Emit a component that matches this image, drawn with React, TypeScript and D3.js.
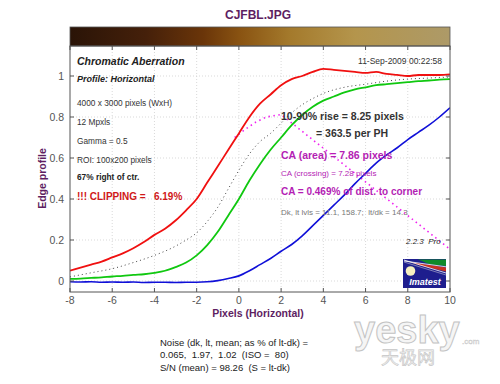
import React from 'react';
import * as d3 from 'd3';

// edge profile samples, x in pixels (horizontal)
const xs = [-8, -7.5, -7, -6.5, -6, -5.5, -5, -4.5, -4, -3.5, -3, -2.5, -2, -1.5, -1, -0.5, 0, 0.5, 1, 1.5, 2, 2.5, 3, 3.5, 4, 4.5, 5, 5.5, 6, 6.5, 7, 7.5, 8, 8.5, 9, 9.5, 10];
const redVals = [0.05, 0.065, 0.08, 0.095, 0.115, 0.135, 0.16, 0.19, 0.225, 0.255, 0.295, 0.345, 0.4, 0.48, 0.56, 0.64, 0.72, 0.8, 0.865, 0.91, 0.955, 0.985, 1.0, 1.02, 1.035, 1.03, 1.025, 1.02, 1.015, 1.02, 1.01, 1.005, 1.0, 1.005, 1.005, 1.005, 1.008];
const greenVals = [0.01, 0.012, 0.015, 0.018, 0.022, 0.025, 0.03, 0.033, 0.04, 0.05, 0.068, 0.09, 0.125, 0.175, 0.24, 0.32, 0.4, 0.49, 0.57, 0.64, 0.7, 0.76, 0.81, 0.85, 0.88, 0.9, 0.92, 0.935, 0.945, 0.955, 0.96, 0.965, 0.97, 0.975, 0.978, 0.982, 0.985];
const blueVals = [-0.004, -0.005, -0.004, -0.006, -0.005, -0.006, -0.005, -0.007, -0.006, -0.006, -0.007, -0.006, -0.006, -0.004, 0.002, 0.012, 0.025, 0.05, 0.08, 0.11, 0.145, 0.178, 0.22, 0.27, 0.32, 0.37, 0.42, 0.475, 0.525, 0.575, 0.615, 0.65, 0.69, 0.725, 0.76, 0.8, 0.845];

const meanXs = [-8, -7, -6, -5, -4, -3, -2.5, -2, -1.5, -1, -0.5, 0, 0.5, 1, 1.5, 2, 2.5, 3, 3.5, 4, 5, 6, 7, 8, 9, 10];
const meanVals = [0.02, 0.04, 0.06, 0.09, 0.125, 0.17, 0.2, 0.235, 0.29, 0.36, 0.45, 0.54, 0.62, 0.68, 0.72, 0.77, 0.82, 0.86, 0.89, 0.915, 0.945, 0.96, 0.975, 0.985, 0.99, 0.995];

const caXs = [-0.2, 0.3, 0.8, 1.3, 2.0, 10];
const caVals = [0.7, 0.74, 0.775, 0.8, 0.812, 0.155];

const xTicks = [-8, -6, -4, -2, 0, 2, 4, 6, 8, 10];
const yTicks = [0, 0.2, 0.4, 0.6, 0.8, 1];

const infoLines = ['4000 x 3000 pixels (WxH)', '12 Mpxls', 'Gamma = 0.5', 'ROI: 100x200 pixels'];
const noiseLines = ['Noise (dk, lt, mean; as % of lt-dk) =', '0.065,  1.97,  1.02  (ISO =  80)', 'S/N (mean) = 98.26  (S = lt-dk)'];

const FONT = 'Liberation Sans, Arial, sans-serif';
const PURPLE = '#5e1e62';
const MAG = '#b41eb4';

export default function App() {
  const left = 70, right = 450, top = 46, bottom = 292;
  const x = d3.scaleLinear().domain([-8, 10]).range([left, right]);
  const y = d3.scaleLinear().domain([0, 1]).range([281, 76]);

  const smooth = d3.line<[number, number]>().x(d => x(d[0])).y(d => y(d[1])).curve(d3.curveMonotoneX);
  const straight = d3.line<[number, number]>().x(d => x(d[0])).y(d => y(d[1]));
  const pts = (a: number[], b: number[]) => a.map((v, i) => [v, b[i]] as [number, number]);

  return (
    <svg width={500} height={384} style={{ position: 'absolute', left: 0, top: 0, background: '#fff' }} fontFamily={FONT}>
      <defs>
        <linearGradient id="bar" x1="0" x2="1" y1="0" y2="0">
          <stop offset="0" stopColor="#2a1407" />
          <stop offset="0.2" stopColor="#45200a" />
          <stop offset="0.35" stopColor="#6a3509" />
          <stop offset="0.45" stopColor="#8a5412" />
          <stop offset="0.58" stopColor="#a47a2c" />
          <stop offset="0.75" stopColor="#b4954c" />
          <stop offset="1" stopColor="#ad9a68" />
        </linearGradient>
        <clipPath id="plot">
          <rect x={left} y={top} width={right - left} height={bottom - top} />
        </clipPath>
      </defs>

      <text x={258} y={19} textAnchor="middle" fontSize={12} fontWeight="bold" fill={PURPLE}>CJFBL.JPG</text>

      {/* grid */}
      {xTicks.slice(1, -1).map(t => (
        <line key={'gx' + t} x1={x(t)} x2={x(t)} y1={top} y2={bottom} stroke="#cfcfcf" strokeWidth={0.8} strokeDasharray="1,2" />
      ))}
      {yTicks.map(t => (
        <line key={'gy' + t} x1={left} x2={right} y1={y(t)} y2={y(t)} stroke="#cfcfcf" strokeWidth={0.8} strokeDasharray="1,2" />
      ))}

      {/* curves */}
      <g clipPath="url(#plot)" fill="none">
        <path d={smooth(pts(meanXs, meanVals)) || ''} stroke="#444" strokeWidth={1} strokeDasharray="1,3" />
        <path d={straight(pts(caXs, caVals)) || ''} stroke="#f020f0" strokeWidth={1.6} strokeDasharray="1.5,3.5" />
        <path d={smooth(pts(xs, blueVals)) || ''} stroke="#1010d8" strokeWidth={1.6} />
        <path d={smooth(pts(xs, greenVals)) || ''} stroke="#10c810" strokeWidth={1.8} />
        <path d={smooth(pts(xs, redVals)) || ''} stroke="#f01010" strokeWidth={1.8} />
      </g>

      {/* frame and gradient bar */}
      <rect x={left} y={27} width={right - left} height={top - 27} fill="url(#bar)" stroke="#555" strokeWidth={0.8} />
      <rect x={left} y={top} width={right - left} height={bottom - top} fill="none" stroke="#555" strokeWidth={1} />

      {/* ticks */}
      {xTicks.map(t => (
        <g key={'tx' + t}>
          <line x1={x(t)} x2={x(t)} y1={bottom} y2={bottom - 4} stroke="#555" />
          <line x1={x(t)} x2={x(t)} y1={top} y2={top + 4} stroke="#555" />
          <text x={x(t)} y={bottom + 12} textAnchor="middle" fontSize={10.5} fill="#555">{t}</text>
        </g>
      ))}
      {yTicks.map(t => (
        <g key={'ty' + t}>
          <line x1={left} x2={left + 4} y1={y(t)} y2={y(t)} stroke="#555" />
          <line x1={right} x2={right - 4} y1={y(t)} y2={y(t)} stroke="#555" />
          <text x={left - 6} y={y(t) + 4} textAnchor="end" fontSize={10.5} fill="#555">{t}</text>
        </g>
      ))}

      <text x={258} y={317} textAnchor="middle" fontSize={10.5} fontWeight="bold" fill={PURPLE}>Pixels (Horizontal)</text>
      <text transform={`translate(46,${y(0.5)}) rotate(-90)`} textAnchor="middle" fontSize={10.5} fontWeight="bold" fill={PURPLE}>Edge profile</text>

      {/* left annotations */}
      <text x={77} y={65} fontSize={10.5} fontWeight="bold" fontStyle="italic" fill="#222">Chromatic Aberration</text>
      <text x={442} y={64} textAnchor="end" fontSize={8.5} fill="#333">11-Sep-2009 00:22:58</text>
      <text x={77} y={82} fontSize={9} fontWeight="bold" fontStyle="italic" fill="#222">Profile: Horizontal</text>
      {infoLines.map((s, i) => (
        <text key={s} x={77} y={106 + i * 19} fontSize={8.3} fill="#333">{s}</text>
      ))}
      <text x={77} y={180} fontSize={8.3} fontWeight="bold" fill="#222">67% right of ctr.</text>
      <text x={77} y={200} fontSize={10} fontWeight="bold" fill="#d01818" xmlSpace="preserve">!!! CLIPPING =   6.19%</text>

      {/* right annotations */}
      <text x={281} y={120} fontSize={10.5} fontWeight="bold" fill="#333">10-90% rise = 8.25 pixels</text>
      <text x={316} y={137} fontSize={10.5} fontWeight="bold" fill="#333">= 363.5 per PH</text>
      <text x={281} y={159} fontSize={10.5} fontWeight="bold" fill={MAG}>CA (area) = 7.86 pixels</text>
      <text x={281} y={176} fontSize={8} fill={MAG}>CA (crossing) = 7.28 pixels</text>
      <text x={281} y={195} fontSize={10} fontWeight="bold" fill={MAG}>CA = 0.469% of dist. to corner</text>
      <text x={281} y={215} fontSize={8} fill="#777" xmlSpace="preserve">Dk, lt lvls = 11.1, 158.7;  lt/dk = 14.3</text>
      <text x={406} y={244} fontSize={8} fontStyle="italic" fill="#222" xmlSpace="preserve">2.2.3  Pro</text>

      {/* Imatest logo */}
      <g>
        <rect x={403} y={259} width={43} height={29} fill="#1e1e8e" />
        <polygon points="418,259.5 446,259.5 446,266 430,264.5" fill="#108a2a" />
        <polygon points="410,262 446,267.5 446,271.5 420,265.5" fill="#c83222" />
        <line x1={404} y1={260} x2={446} y2={273} stroke="#fff" strokeWidth={0.8} />
        <line x1={404} y1={261} x2={446} y2={266.8} stroke="#fff" strokeWidth={0.8} />
        <line x1={404} y1={262} x2={446} y2={275} stroke="#ddd" strokeWidth={0.5} />
        <circle cx={410.5} cy={271} r={4.8} fill="#f6f0c0" />
        <text x={425} y={285} textAnchor="middle" fontSize={9} fontWeight="bold" fontStyle="italic" fill="#fff">Imatest</text>
      </g>

      {/* noise summary */}
      {noiseLines.map((s, i) => (
        <text key={s} x={160} y={346 + i * 12.3} fontSize={9.5} fill="#222" xmlSpace="preserve">{s}</text>
      ))}

      {/* watermark */}
      <g opacity={0.9}>
        <text x={354} y={343} fontSize={38} fontWeight="bold" fill="#f4f4f4" stroke="#bdbdbd" strokeWidth={1}>yesky</text>
        <text x={462} y={344} fontSize={8} fill="#eee" stroke="#c4c4c4" strokeWidth={0.4}>.com</text>
        <text x={408} y={364} textAnchor="middle" fontSize={18} fontFamily="Noto Sans CJK SC" fill="#eee" stroke="#c0c0c0" strokeWidth={0.6}>天极网</text>
      </g>
    </svg>
  );
}
